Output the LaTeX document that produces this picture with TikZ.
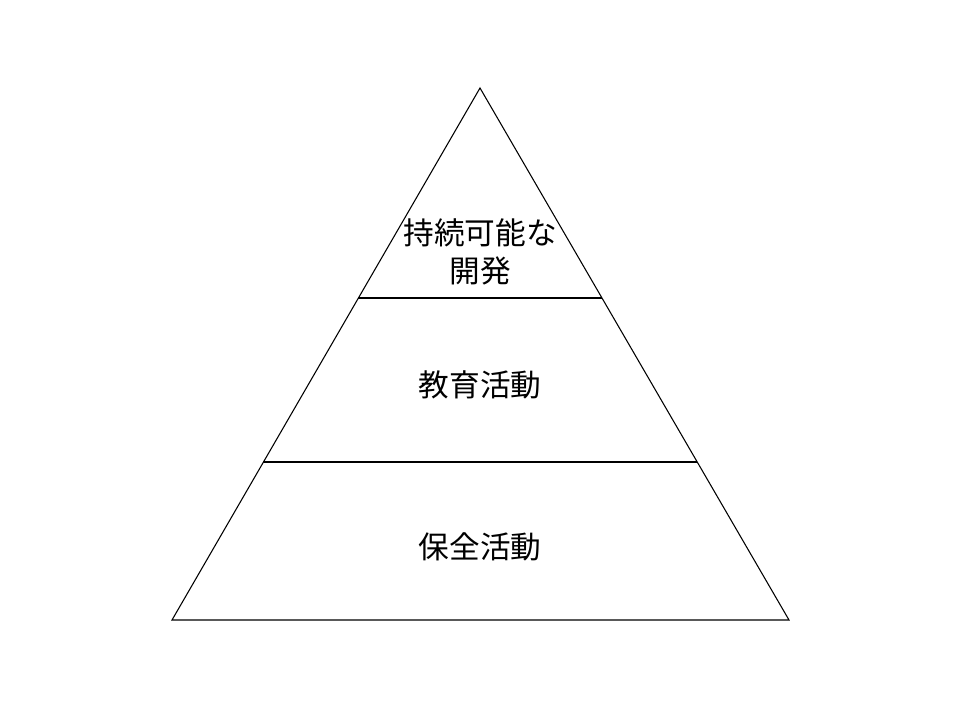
\documentclass[tikz,border=0pt]{standalone}
\usepackage{fontspec}
\setmainfont{Noto Sans CJK JP}
\usetikzlibrary{positioning,calc}
\tikzstyle{layer} = [draw=black, line width=0.8pt, line join=miter]
\tikzstyle{label} = [text centered, align=center, font=\fontsize{23pt}{28pt}\selectfont, inner sep=0pt]

\begin{document}
\begin{tikzpicture}[x=0.75pt, y=-0.75pt]
				\useasboundingbox (0,0) rectangle (960,720);
				% Place corners
				\coordinate (top) at (480,88);
				\coordinate (bl) at (172,620);
				\coordinate (br) at (789,620);
				\coordinate (ml) at ($(top)!0.3947!(bl)$);
				\coordinate (mr) at ($(top)!0.3947!(br)$);
				\coordinate (ll) at ($(top)!0.7030!(bl)$);
				\coordinate (lr) at ($(top)!0.7030!(br)$);
				% Draw layers
				\path [layer] (top) -- (bl) -- (br) -- cycle;
				\path [layer] (ml) -- (mr);
				\path [layer] (ll) -- (lr);
				% Place labels
				\node [label] (dev) at (480,252) {持続可能な\\開発};
				\node [label] (edu) at (480,385) {教育活動};
				\node [label] (cons) at (480,547) {保全活動};
\end{tikzpicture}
\end{document}
